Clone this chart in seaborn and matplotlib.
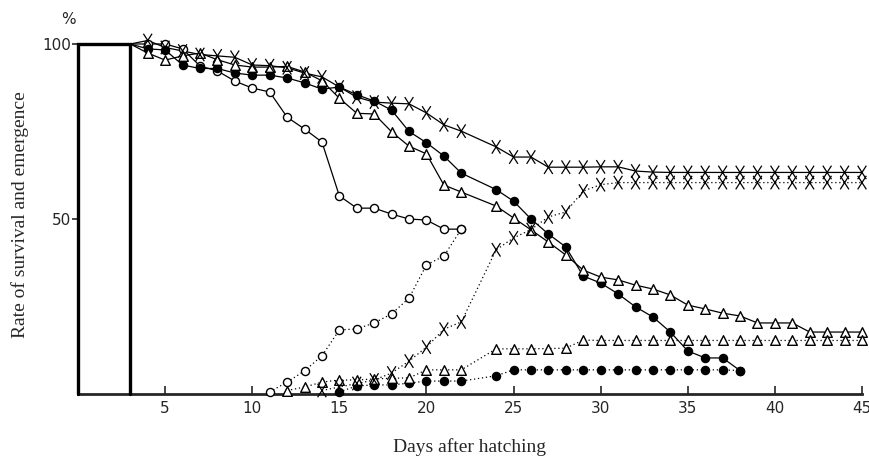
import numpy as np
import pandas as pd
import matplotlib
matplotlib.use("Agg")
import matplotlib.pyplot as plt
import seaborn as sns
from matplotlib.path import Path

# ---------------- data ----------------
N = None
open_surv_start = 3
open_surv = [100, 100, 100, 98.6, 93.7, 92.3, 89.4, 87.4, 86.3, 79.1, 75.7, 72, 56.6,
             53.1, 53.1, 51.4, 50, 49.7, 47.1, 47.1]
open_emer_start = 11
open_emer = [0.6, 3.4, 6.6, 10.9, 18.3, 18.6, 20.3, 22.9, 27.4, 36.9, 39.4, 47.1]

filled_surv_start = 3
filled_surv = [100, 98.6, 98.3, 94, 93, 93, 91.7, 91.1, 91.1, 90.3, 88.9, 87.1, 87.7, 85.5,
               83.7, 81.1, 75, 71.8, 68, 63.1, N, 58.4, 55.1, 50, 45.7, 42, 33.7, 31.7,
               28.6, 24.9, 22, 17.7, 12.3, 10.3, 10.3, 6.7]
filled_emer_start = 15
filled_emer = [0.6, 2.3, 2.6, 2.6, 3.1, 3.7, 3.7, 3.7, N, 5.2, 6.9, 6.9, 6.9, 6.9, 6.9, 6.9,
               6.9, 6.9, 6.9, 6.9, 6.9, 6.9, 6.9, 6.7]

tri_surv_start = 3
tri_surv = [100, 97.4, 95.4, 96.6, 97.4, 95.5, 94, 93.4, 93.4, 93.6, 92, 89.5, 84.5, 80.2,
            80, 74.9, 70.8, 68.6, 59.7, 57.7, N, 53.7, 50.3, 46.9, 43.4, 39.7, 35.4, 33.4,
            32.6, 31.1, 30, 28.3, 25.4, 24.3, 23.1, 22.3, 20.3, 20.3, 20.3, 17.7, 17.7,
            17.7, 17.7]
tri_emer_start = 12
tri_emer = [1, 2, 3.4, 4, 4, 4.3, 4.5, 4.6, 6.9, 6.9, 6.9, N, 12.9, 12.9, 12.9, 13, 13.1,
            15.4, 15.3, 15.3, 15.3, 15.3, 15.3, 15.3, 15.3, 15.3, 15.3, 15.3, 15.3, 15.3,
            15.3, 15.3, 15.3, 15.3]

x_surv_start = 3
x_surv = [100, 101, 99, 98, 97, 96.6, 96.2, 94, 93.8, 93.2, 91.7, 90.6, 87.7, 84.8, 83.4,
          83.1, 82.9, 80.3, 76.9, 75.1, N, 70.6, 67.7, 67.7, 64.8, 64.8, 64.8, 64.9, 64.9,
          63.7, 63.4, 63.3, 63.3, 63.3, 63.3, 63.3, 63.3, 63.3, 63.3, 63.3, 63.3, 63.3, 63.3]
x_emer_start = 14
x_emer = [1, 2, 3, 4, 6, 9.4, 13.4, 18.5, 20.6, N, 41.2, 44.6, 47, 50.6, 52, 58, 59.8,
          60.4, 60.4, 60.4, 60.4, 60.4, 60.4, 60.4, 60.4, 60.4, 60.4, 60.4, 60.4, 60.4,
          60.4, 60.4]

rearing_day = 3          # the box: all larvae alive until this day
x_ticks = [5, 10, 15, 20, 25, 30, 35, 40, 45]
y_ticks = [50, 100]
y_ticklabels = ["50", "100"]
x_title = "Days after hatching"
y_title = "Rate of survival and emergence"

# ---------------- styling ----------------
sns.set_style("ticks")
plt.rcParams['font.family'] = ['DejaVu Sans']

fig = plt.figure(figsize=(8.7, 4.59), dpi=100)
ax = fig.add_axes([0.0897, 0.1416, 0.9011, 0.8007])

# tall letter-like X marker
x_marker = Path([(-0.32, -0.5), (0.32, 0.5), (-0.32, 0.5), (0.32, -0.5)],
                [Path.MOVETO, Path.LINETO, Path.MOVETO, Path.LINETO])


def to_frame(start, vals):
    d = pd.DataFrame({"day": np.arange(start, start + len(vals)),
                      "value": pd.to_numeric(pd.Series(vals), errors="coerce")})
    return d.dropna()


def draw(start, vals, marker, filled, dotted, survival):
    df = to_frame(start, vals)
    sns.lineplot(data=df, x="day", y="value", ax=ax, color="black", lw=0.9,
                 linestyle=(0, (1, 2.2)) if dotted else "-", estimator=None,
                 sort=False, zorder=2, clip_on=False)
    pts = df[df["day"] > rearing_day] if survival else df
    if marker == "X":
        sns.scatterplot(data=pts, x="day", y="value", ax=ax, marker=x_marker, s=95,
                        facecolor="none", edgecolor="black", linewidth=0.9,
                        zorder=4, clip_on=False)
    else:
        size = 34 if marker == "o" else 48
        sns.scatterplot(data=pts, x="day", y="value", ax=ax, marker=marker, s=size,
                        facecolor="black" if filled else "white", edgecolor="black",
                        linewidth=1.0, zorder=4, clip_on=False)


draw(open_surv_start, open_surv, "o", False, False, True)
draw(open_emer_start, open_emer, "o", False, True, False)
draw(filled_surv_start, filled_surv, "o", True, False, True)
draw(filled_emer_start, filled_emer, "o", True, True, False)
draw(tri_surv_start, tri_surv, "^", False, False, True)
draw(tri_emer_start, tri_emer, "^", False, True, False)
draw(x_surv_start, x_surv, "X", False, False, True)
draw(x_emer_start, x_emer, "X", False, True, False)

# rearing box
ax.plot([0, 0, rearing_day, rearing_day], [0, 100, 100, 0], color="black", lw=2.4,
        solid_joinstyle="miter", zorder=5, clip_on=False)

ax.set_xlim(0, 45)
ax.set_ylim(0, 105)
sns.despine(ax=ax, top=True, right=True, left=True)
ax.spines["bottom"].set_linewidth(2.0)

ax.set_xticks(x_ticks)
ax.set_xticklabels([str(t) for t in x_ticks])
ax.tick_params(axis="x", direction="in", length=6, width=1.2, labelsize=11, pad=5)
ax.set_yticks(y_ticks)
ax.set_yticklabels(y_ticklabels)
ax.tick_params(axis="y", direction="out", length=4, width=1.2, labelsize=11, pad=1)

ax.set_xlabel("")
ax.set_ylabel("")
fig.text(470 / 870, 1 - 447 / 459, x_title, family="Liberation Serif", fontsize=14,
         ha="center", va="center")
fig.text(20 / 870, 1 - 215 / 459, y_title, family="Liberation Serif", fontsize=14,
         ha="center", va="center", rotation=90)
fig.text(68 / 870, 1 - 19 / 459, "%", ha="center", va="center", fontsize=11)

fig.savefig("out.png", dpi=100)
